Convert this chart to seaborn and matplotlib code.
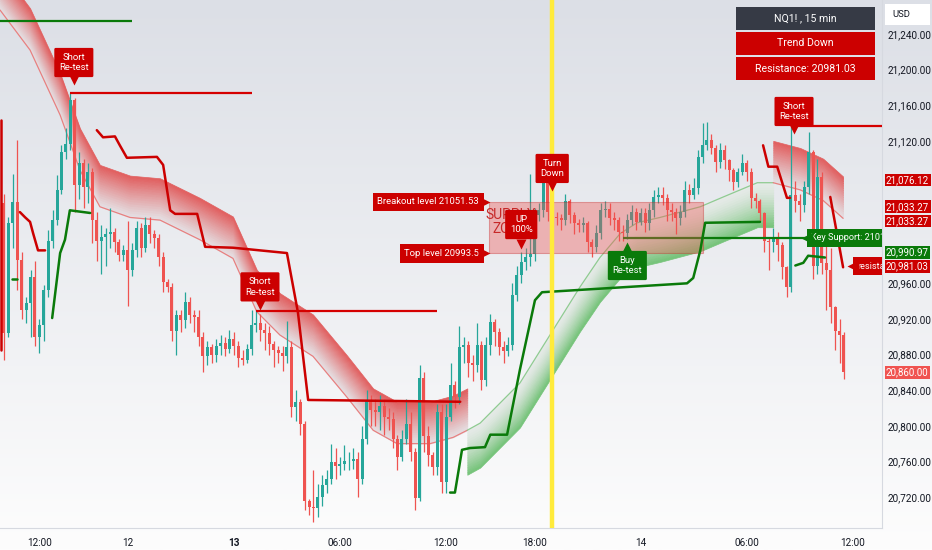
import numpy as np
import pandas as pd
import matplotlib
matplotlib.use("Agg")
import matplotlib.pyplot as plt
import seaborn as sns
from matplotlib.colors import LinearSegmentedColormap, to_rgb
from matplotlib.patches import Rectangle
from matplotlib.transforms import offset_copy

sns.set_theme(style="white")
plt.rcParams['font.family'] = ['Roboto', 'DejaVu Sans']

# ---- candles (NQ1!, 15 min) ----
first_open = 21050
closes = [20904, 21028, 21051, 20986, 20930, 20938, 20967, 20900, 20913, 20952,
          21008, 21031, 21065, 21107, 21117, 21166, 21070, 21095, 21068, 21085,
          21031, 21008, 21012, 21015, 21018, 21006, 20992, 20997, 20975, 20997,
          21022, 21000, 21026, 21015, 21011, 20990, 20961, 20956, 20907, 20924,
          20919, 20939, 20924, 20922, 20900, 20878, 20888, 20880, 20890, 20893,
          20886, 20897, 20890, 20876, 20874, 20886, 20913, 20915, 20908, 20904,
          20892, 20885, 20882, 20878, 20888, 20821, 20827, 20802, 20716, 20709,
          20708, 20720, 20733, 20740, 20759, 20755, 20757, 20760, 20761, 20763,
          20740, 20785, 20829, 20818, 20815, 20822, 20810, 20808, 20785, 20765,
          20785, 20802, 20770, 20719, 20854, 20788, 20767, 20754, 20815, 20737,
          20810, 20846, 20832, 20888, 20891, 20870, 20868, 20891, 20851, 20891,
          20916, 20905, 20888, 20884, 20891, 20947, 20969, 20984, 20990, 20993,
          21037, 21042, 21076, 21040, 21034, 21033, 21031, 21053, 21037, 21028,
          21025, 21028, 21006, 21001, 21016, 21042, 21044, 21033, 21031, 21018,
          21016, 21031, 21040, 21029, 21039, 21028, 21042, 21057, 21059, 21056,
          21042, 21040, 21033, 21040, 21065, 21059, 21067, 21102, 21115, 21121,
          21112, 21096, 21110, 21098, 21087, 21074, 21085, 21095, 21085, 21056,
          21053, 21039, 21008, 21006, 21012, 21003, 20978, 20956, 21059, 21053,
          21048, 21068, 21107, 20980, 21079, 20983, 20975, 20933, 20907, 20902,
          20860]
highs = [21060, 21035, 21083, 21121, 20995, 20945, 20975, 20985, 20920, 20958,
         21020, 21042, 21082, 21115, 21135, 21174, 21168, 21108, 21100, 21095,
         21090, 21040, 21025, 21022, 21045, 21022, 21010, 21003, 21030, 21005,
         21030, 21028, 21035, 21035, 21020, 21015, 20995, 20965, 20960, 20930,
         20930, 20950, 20945, 20930, 20930, 20905, 20895, 20892, 20897, 20902,
         20900, 20908, 20905, 20895, 20885, 20892, 20930, 20930, 20925, 20915,
         20912, 20895, 20890, 20890, 20918, 20895, 20840, 20830, 20805, 20718,
         20750, 20735, 20745, 20750, 20780, 20775, 20765, 20778, 20770, 20775,
         20770, 20800, 20840, 20835, 20830, 20835, 20830, 20820, 20815, 20790,
         20795, 20830, 20815, 20775, 20868, 20860, 20800, 20770, 20825, 20825,
         20825, 20870, 20850, 20912, 20900, 20895, 20880, 20915, 20895, 20900,
         20925, 20920, 20910, 20895, 20900, 20960, 20980, 20995, 21000, 21083,
         21045, 21050, 21095, 21080, 21045, 21040, 21038, 21060, 21055, 21040,
         21032, 21035, 21030, 21010, 21025, 21050, 21052, 21050, 21040, 21035,
         21025, 21038, 21048, 21045, 21045, 21045, 21050, 21065, 21068, 21068,
         21060, 21050, 21045, 21048, 21075, 21072, 21078, 21110, 21140, 21141,
         21128, 21115, 21118, 21115, 21100, 21090, 21090, 21105, 21098, 21090,
         21062, 21055, 21040, 21012, 21022, 21018, 21006, 20980, 21137, 21075,
         21060, 21075, 21130, 21110, 21100, 21085, 21005, 21000, 20935, 20920,
         20905]
lows = [20874, 20900, 21000, 20952, 20920, 20915, 20900, 20890, 20882, 20895,
        20945, 21000, 21025, 21060, 21100, 21110, 21040, 21055, 21045, 21050,
        21005, 20985, 20970, 20980, 21000, 20995, 20985, 20985, 20935, 20968,
        20990, 20990, 20995, 21005, 21000, 20980, 20950, 20950, 20895, 20880,
        20905, 20910, 20915, 20905, 20890, 20860, 20868, 20870, 20872, 20880,
        20878, 20882, 20880, 20866, 20868, 20870, 20880, 20905, 20895, 20885,
        20880, 20866, 20870, 20862, 20870, 20810, 20805, 20790, 20705, 20700,
        20692, 20698, 20710, 20725, 20735, 20740, 20745, 20750, 20750, 20752,
        20720, 20735, 20780, 20800, 20800, 20795, 20790, 20795, 20775, 20750,
        20760, 20780, 20760, 20705, 20715, 20770, 20755, 20745, 20745, 20725,
        20725, 20805, 20820, 20825, 20870, 20855, 20850, 20860, 20840, 20845,
        20880, 20890, 20880, 20870, 20878, 20885, 20940, 20960, 20975, 20980,
        20985, 21030, 21035, 21030, 21020, 21025, 21020, 21025, 21028, 21015,
        21018, 21018, 20995, 20990, 20995, 21010, 21035, 21025, 21020, 21008,
        21008, 21010, 21025, 21020, 21025, 21018, 21020, 21035, 21050, 21048,
        21030, 21030, 21015, 21025, 21035, 21050, 21055, 21060, 21095, 21110,
        21105, 21085, 21090, 21088, 21075, 21065, 21068, 21082, 21075, 21045,
        21045, 21030, 20995, 20975, 20995, 20985, 20965, 20945, 20950, 21040,
        21030, 21040, 21060, 20965, 20970, 20970, 20930, 20915, 20885, 20870,
        20852]

tick_bars = [8, 28, 52, 76, 100, 120, 144, 168, 192]
tick_text = ['12:00', '12', '13', '06:00', '12:00', '18:00', '14', '06:00', '12:00']
price_ticks = list(range(20720, 21241, 40))
hidden_ticks = [21000, 21040, 21080]   # covered by the price tags

# trend cloud basis line
basis_bar = [-0.9, 5.9, 12.7, 17.2, 21.7, 28.5, 35.3, 44.3, 51.8, 57.2, 62.4,
             69.9, 77.6, 83.5, 88.9, 96.4, 101.6, 104.8, 107.7, 116.7, 123.5,
             130.3, 134.8, 139.4, 143.2, 148.4, 157.5, 162.7, 170.4, 174.0,
             180.1, 185.3, 189.8]
basis_price = [21267, 21222, 21149, 21087, 21046, 21034, 21031, 21009, 20988,
               20928, 20902, 20878, 20832, 20795, 20780, 20780, 20787, 20795,
               20803, 20848, 20902, 20956, 20989, 21016, 21028, 21034, 21046,
               21057, 21073, 21073, 21065, 21053, 21033]

# trailing resistance / support step lines
red_left_bar = [3.6, 4.8, 5.9, 6.6, 7.7, 9.3]
red_left_price = [21040, 21034, 21029, 21016, 20997, 20997]
red_edge_bar = [-0.6, -0.6]
red_edge_price = [21143, 20885]
red_mid_bar = [21.0, 22.4, 25.1, 26.2, 27.8, 34.6, 36.0, 37.6, 38.7, 43.7, 45.5,
               51.8, 64.0, 66.5, 68.8, 103.2]
red_mid_price = [21132, 21124, 21125, 21115, 21101, 21102, 21093, 21042, 21038,
                 21038, 21001, 21000, 20994, 20927, 20829, 20827]
red_right_bar = [171.7, 172.9, 174.9, 177.1, 177.8]
red_right_price = [21115, 21091, 21091, 21056, 21056]
red_last_bar = [186.9, 189.8]
red_last_price = [21057, 20978]

green_left_bar = [10.9, 12.7, 13.8, 14.9, 19.5]
green_left_price = [20921, 20994, 21009, 21042, 21039]
green_dash_bar = [1.8, 2.9]
green_dash_price = [20965, 20965]
green_mid_bar = [100.9, 102.0, 103.6, 105.4, 108.8, 110.0, 113.8, 116.7, 120.1,
                 121.7, 154.5, 155.9, 157.5, 158.6, 171.0]
green_mid_price = [20725, 20725, 20773, 20775, 20776, 20790, 20790, 20863, 20941,
                   20950, 20960, 20966, 20997, 21028, 21029]
green_right_bar = [179.0, 180.8, 181.9, 185.7]
green_right_price = [20980, 20983, 20991, 20989]

# horizontal levels: (start bar, end bar, price)
red_levels = [(15, 56, 21174), (57, 98, 20929), (178, 199, 21137)]
green_levels = [(-1, 29, 21255), (140, 181.7, 21011)]

zone_bars = (109.7, 158.1)
breakout_level = 21051.53
top_level = 20993.5
turn_bar = 124

# pin labels: (bar, price, tip price, text, colour, pointer)
pin_labels = [
    (15.8, 21208, 21188, 'Short\nRe-test', '#cc0000', 'v'),
    (57.9, 20956, 20936, 'Short\nRe-test', '#cc0000', 'v'),
    (178.7, 21153, 21133, 'Short\nRe-test', '#cc0000', 'v'),
    (124.0, 21089, 21069, 'Turn\nDown', '#cc0000', 'v'),
    (117.0, 21026, 21004, 'UP\n100%', '#cc0000', 'v'),
    (141.0, 20980, 21001, 'Buy\nRe-test', '#0a7a0a', '^'),
]

tag_values = ['21,076.12', '21,033.27', '21,033.27', '20,990.97', '20,981.03', '20,860.00']
tag_prices = [21076, 21046, 21030, 20995, 20979, 20860]
tag_colors = ['#cc0000', '#cc0000', '#cc0000', '#0a7a0a', '#cc0000', '#f05350']

info_rows = ['NQ1! , 15 min', 'Trend Down', 'Resistance: 20981.03']
info_colors = ['#363a45', '#cc0000', '#cc0000']

UP, DOWN = '#26a69a', '#ef5350'

df = pd.DataFrame({'close': closes, 'high': highs, 'low': lows})
df['open'] = [first_open] + closes[:-1]
df['bar'] = np.arange(len(df))
df['col'] = np.where(df['close'] >= df['open'], UP, DOWN)

fig = plt.figure(figsize=(9.32, 5.5), dpi=100)

# background gradient
bg = fig.add_axes([0, 0, 1, 1], zorder=-10)
bg_cmap = LinearSegmentedColormap.from_list('bg', ['#fdfdfd', '#dcdfe6'])
bg.imshow(np.linspace(0, 1, 256)[::-1].reshape(-1, 1), aspect='auto', cmap=bg_cmap,
          extent=[0, 1, 0, 1], origin='upper')
bg.set_axis_off()

ax = fig.add_axes([0, 22 / 550, 882 / 932, 528 / 550])
ax.patch.set_alpha(0)
ax.set_xlim(-0.9, 198.6)
ax.set_ylim(20685.2, 21278.2)


def mix(c1, c2, t):
    a, b = np.array(to_rgb(c1)), np.array(to_rgb(c2))
    return tuple(a + (b - a) * t)


def cloud(xs, base, width, c_in, c_out, gamma, n=18):
    xs, base = np.asarray(xs), np.asarray(base)
    for k in range(n):
        col = mix(c_in, c_out, ((k + 0.5) / n) ** gamma)
        ax.fill_between(xs, base + width * k / n, base + width * (k + 1) / n,
                        color=col, lw=0.5, zorder=1)


bb, bp = basis_bar, basis_price
cloud(bb[:18], bp[:18], 47, '#e4e3e7', '#e15d5d', 1.1)
cloud(bb[17:30], bp[17:30], -50, '#e6eae8', '#72c276', 1.5)
cloud(bb[29:], bp[29:], 47, '#e4e3e7', '#e15d5d', 1.1)
sns.lineplot(x=bb[:18], y=bp[:18], ax=ax, color='#e88080', lw=0.9, zorder=2, sort=False)
sns.lineplot(x=bb[17:30], y=bp[17:30], ax=ax, color='#8fcb91', lw=0.9, zorder=2, sort=False)
sns.lineplot(x=bb[29:], y=bp[29:], ax=ax, color='#e88080', lw=0.9, zorder=2, sort=False)

# candles
ax.vlines(df['bar'], df['low'], df['high'], colors=df['col'], lw=0.9, zorder=3)
ax.bar(df['bar'], (df['close'] - df['open']).abs().clip(lower=0.8),
       bottom=df[['open', 'close']].min(axis=1), width=0.68, color=df['col'],
       lw=0, zorder=4)

# supply zone
ax.add_patch(Rectangle((zone_bars[0], top_level), zone_bars[1] - zone_bars[0],
                       breakout_level - top_level, fc='#ef5350', ec='#c62828',
                       lw=0.8, alpha=0.38, zorder=5))
ax.text(114.5, 21029, 'SUPPLY\nZONE', color='#c62828', fontsize=10, ha='center',
        va='center', linespacing=1.05, zorder=5.5)

for xs, ys in [(red_left_bar, red_left_price), (red_edge_bar, red_edge_price),
               (red_mid_bar, red_mid_price), (red_right_bar, red_right_price),
               (red_last_bar, red_last_price)]:
    ax.plot(xs, ys, color='#cc0000', lw=1.8, zorder=6, solid_joinstyle='round')
for xs, ys in [(green_left_bar, green_left_price), (green_dash_bar, green_dash_price),
               (green_mid_bar, green_mid_price), (green_right_bar, green_right_price)]:
    ax.plot(xs, ys, color='#0a7a0a', lw=1.8, zorder=6, solid_joinstyle='round')
for x0, x1, p in red_levels:
    ax.hlines(p, x0, x1, color='#d50000', lw=1.6, zorder=6)
for x0, x1, p in green_levels:
    ax.hlines(p, x0, x1, color='#0a7a0a', lw=1.6, zorder=4.5)

ax.axvline(turn_bar, color='#ffeb3b', lw=3.2, zorder=6.5)

# labels
for b, p, tip, txt, col, mk in pin_labels:
    ax.text(b, p, txt, ha='center', va='center', color='white', fontsize=6.8,
            linespacing=1.25, zorder=9,
            bbox=dict(boxstyle='round,pad=0.5,rounding_size=0.15', fc=col, ec='none'))
    ax.plot(b, tip, marker=mk, ms=7, color=col, mec='none', zorder=9)

right_tip = offset_copy(ax.transData, fig=fig, x=3.6, units='points')
left_tip = offset_copy(ax.transData, fig=fig, x=-3.4, units='points')
for b, p, txt in [(107.5, breakout_level, 'Breakout level 21051.53'),
                  (107.5, top_level, 'Top level 20993.5')]:
    ax.text(b, p, txt, ha='right', va='center', color='white', fontsize=6.8, zorder=9,
            bbox=dict(boxstyle='square,pad=0.5', fc='#cc0000', ec='none'))
    ax.plot(b, p, marker='>', ms=9, color='#cc0000', mec='none', zorder=9,
            transform=right_tip)
for b, p, txt, col in [(182.6, 21011, 'Key Support: 21010', '#0a7a0a'),
                       (193.0, 20979, 'resistance', '#cc0000')]:
    t = ax.text(b, p, txt, ha='left', va='center', color='white', fontsize=6.6,
                zorder=9, bbox=dict(boxstyle='square,pad=0.5', fc=col, ec='none'))
    t.set_clip_on(True)
    t.set_clip_box(ax.bbox)
    ax.plot(b, p, marker='<', ms=9, color=col, mec='none', zorder=9,
            transform=left_tip)

# axes styling
ax.set_xticks(tick_bars)
ax.set_xticklabels(tick_text)
ax.get_xticklabels()[2].set_fontweight('bold')
ax.yaxis.tick_right()
ax.set_yticks(price_ticks)
ax.set_yticklabels(['' if v in hidden_ticks else f'{v:,.2f}' for v in price_ticks])
ax.tick_params(axis='x', length=0, pad=7, labelsize=7.2, colors='#131722')
ax.tick_params(axis='y', length=0, pad=4, labelsize=7.2, colors='#131722')
for side in ['top', 'left']:
    ax.spines[side].set_visible(False)
for side in ['bottom', 'right']:
    ax.spines[side].set_color('#d6d9e0')
    ax.spines[side].set_linewidth(0.8)
ax.grid(False)

for s, p, c in zip(tag_values, tag_prices, tag_colors):
    ax.text(1.0045, p, s, transform=ax.get_yaxis_transform(), ha='left', va='center',
            color='white', fontsize=7.0, zorder=20, clip_on=False,
            bbox=dict(boxstyle='square,pad=0.14', fc=c, ec='none'))

# info table and currency box
for i, (txt, col) in enumerate(zip(info_rows, info_colors)):
    top = 7 + i * 25
    fig.patches.append(Rectangle((736 / 932, 1 - (top + 23) / 550), 139 / 932, 23 / 550,
                                 transform=fig.transFigure, fc=col, ec='none'))
    fig.text(805.5 / 932, 1 - (top + 11.5) / 550, txt, ha='center', va='center',
             color='white', fontsize=7.6)
fig.patches.append(Rectangle((885 / 932, 1 - 25 / 550), 45 / 932, 21 / 550,
                             transform=fig.transFigure, fc='white', ec='none'))
fig.text(892 / 932, 1 - 14.5 / 550, 'USD', ha='left', va='center', color='#131722',
         fontsize=6.8)

fig.savefig('out.png', dpi=100)
